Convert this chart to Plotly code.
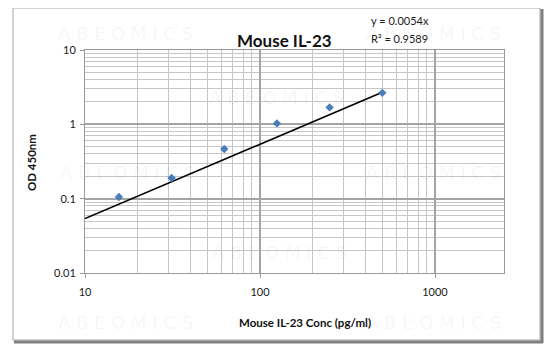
import plotly.graph_objects as go

# ---- data ----
conc = [15.625, 31.25, 62.5, 125, 250, 500]
od = [0.105, 0.19, 0.465, 1.03, 1.69, 2.65]
slope = 0.0054
trend_x = [10, 500]
trend_y = [slope * v for v in trend_x]
eq_text = "y = 0.0054x"
r2_text = "R² = 0.9589"
title_text = "Mouse IL-23"
x_title = "Mouse IL-23 Conc (pg/ml)"
y_title = "OD 450nm"
x_ticks = [10, 100, 1000]
x_ticktext = ["10", "100", "1000"]
y_ticks = [0.01, 0.1, 1, 10]
y_ticktext = ["0.01", "0.1", "1", "10"]
watermark = "A B E O M I C S"

# page body has an 8px margin; design in screen pixels and shift
OFF = 8
W, H = 538, 345
PL, PR, PT, PB = 85, 504, 50, 273  # plot area in screen pixels
L, T = PL - OFF, PT - OFF
R = W - (PR - OFF)
B = H - (PB - OFF)
PW, PH = PR - PL, PB - PT

def px(x):
    return (x - PL) / PW

def py(y):
    return (PB - y) / PH

FONT = "Lato, Carlito, 'Liberation Sans', sans-serif"

fig = go.Figure()
fig.add_trace(go.Scatter(x=trend_x, y=trend_y, mode="lines",
                         line=dict(color="black", width=1.6), hoverinfo="skip"))
fig.add_trace(go.Scatter(x=conc, y=od, mode="markers",
                         marker=dict(symbol="diamond", size=6.5, color="#4a7ebb")))

minor_x = [m * 10 ** d for d in (1, 2) for m in range(2, 10)]
minor_y = [m * 10 ** d for d in (-2, -1, 0) for m in range(2, 10)]

axis_common = dict(type="log", showline=True, linecolor="#9a9a9a", linewidth=1,
                   mirror=True, ticks="outside", ticklen=4, tickcolor="#9a9a9a",
                   gridcolor="#a4a4a4", gridwidth=1.5, zeroline=False,
                   tickfont=dict(family=FONT, size=11, color="#1a1a1a"))
fig.update_xaxes(**axis_common, range=[1, 1 + PW / 175.0], tickvals=x_ticks,
                 ticktext=x_ticktext, ticklabelstandoff=5,
                 minor=dict(tickvals=minor_x, showgrid=True, gridcolor="#c6c6c6",
                            gridwidth=1, ticks=""))
fig.update_yaxes(**axis_common, range=[-2, 1], tickvals=y_ticks, ticktext=y_ticktext,
                 ticklabelstandoff=2,
                 minor=dict(tickvals=minor_y, showgrid=True, gridcolor="#c6c6c6",
                            gridwidth=1, ticks=""))

ann = []
# watermarks
wm_rows = [(125, 33), (433, 33), (276, 97), (127, 172), (433, 172),
           (279, 252), (125, 322), (433, 322)]
for cx, cy in wm_rows:
    ann.append(dict(x=px(cx), y=py(cy), xref="paper", yref="paper", text=watermark,
                    showarrow=False, xanchor="center", yanchor="middle",
                    font=dict(family="DejaVu Sans", size=18, color="rgba(0,0,0,0.055)")))
ann.append(dict(x=px(284), y=py(40), xref="paper", yref="paper", text=f"<b>{title_text}</b>",
                showarrow=False, xanchor="center", yanchor="middle",
                font=dict(family=FONT, size=17, color="#111")))
ann.append(dict(x=px(369), y=py(20), xref="paper", yref="paper", text=eq_text,
                showarrow=False, xanchor="left", yanchor="middle",
                font=dict(family=FONT, size=11, color="#1a1a1a")))
ann.append(dict(x=px(369), y=py(38), xref="paper", yref="paper", text=r2_text,
                showarrow=False, xanchor="left", yanchor="middle",
                font=dict(family=FONT, size=11, color="#1a1a1a")))
ann.append(dict(x=px(305), y=py(322), xref="paper", yref="paper", text=f"<b>{x_title}</b>",
                showarrow=False, xanchor="center", yanchor="middle",
                font=dict(family=FONT, size=11.5, color="#111")))
ann.append(dict(x=px(31), y=py(162), xref="paper", yref="paper", text=f"<b>{y_title}</b>",
                showarrow=False, xanchor="center", yanchor="middle", textangle=-90,
                font=dict(family=FONT, size=11.5, color="#111")))

shapes = [
    dict(type="rect", xref="paper", yref="paper", x0=px(13), y0=py(340), x1=px(540), y1=py(8),
         line=dict(color="#c4c4c4", width=1.5), layer="below"),
    dict(type="line", xref="paper", yref="paper", x0=px(542), y0=py(9), x1=px(542), y1=py(343),
         line=dict(color="#7f7f7f", width=3)),
    dict(type="line", xref="paper", yref="paper", x0=px(14), y0=py(342), x1=px(543), y1=py(342),
         line=dict(color="#7f7f7f", width=3)),
]

fig.update_layout(width=W, height=H, margin=dict(l=L, r=R, t=T, b=B),
                  paper_bgcolor="white", plot_bgcolor="white", showlegend=False,
                  annotations=ann, shapes=shapes)
fig.write_html("out.html")
